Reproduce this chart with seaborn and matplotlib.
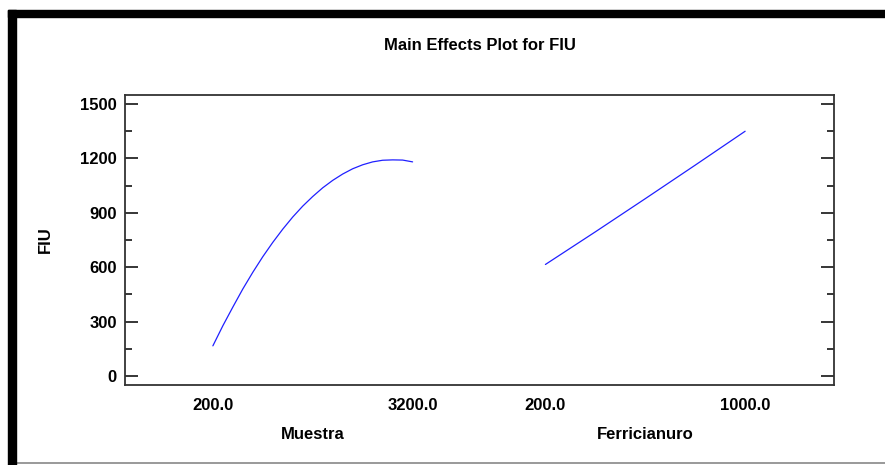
import numpy as np
import pandas as pd
import matplotlib
matplotlib.use("Agg")
import matplotlib.pyplot as plt
from matplotlib.patches import Rectangle
from matplotlib.ticker import MultipleLocator
import seaborn as sns

# Data
muestra_levels = [200, 350, 500, 650, 800, 950, 1100, 1250, 1400, 1550, 1700,
                  1850, 2000, 2150, 2300, 2450, 2600, 2750, 2900, 3050, 3200]
muestra_fiu = [166, 277, 380, 480, 572, 658, 737, 810, 877, 937, 990,
               1038, 1079, 1114, 1143, 1165, 1181, 1190, 1192, 1191, 1181]

ferri_levels = [200, 400, 600, 800, 1000]
ferri_fiu = [615, 795, 978, 1163, 1350]

factor_names = ["Muestra", "Ferricianuro"]
factor_ranges = [(200, 3200), (200, 1000)]
tick_labels = ["200.0", "3200.0", "200.0", "1000.0"]

# each factor gets a unit-wide slot on a shared x axis
offsets = [0.0, 1.665]


def to_slot(vals, lo, hi, off):
    return [(v - lo) / (hi - lo) + off for v in vals]


df = pd.concat([
    pd.DataFrame({"x": to_slot(muestra_levels, *factor_ranges[0], offsets[0]),
                  "FIU": muestra_fiu, "factor": factor_names[0]}),
    pd.DataFrame({"x": to_slot(ferri_levels, *factor_ranges[1], offsets[1]),
                  "FIU": ferri_fiu, "factor": factor_names[1]}),
])

sns.set_style("white")
plt.rcParams["font.family"] = ["Liberation Sans", "DejaVu Sans"]
plt.rcParams["font.weight"] = "bold"
plt.rcParams["text.color"] = "black"
plt.rcParams["xtick.color"] = "black"
plt.rcParams["ytick.color"] = "black"
plt.rcParams["axes.labelcolor"] = "black"

fig = plt.figure(figsize=(8.85, 4.65), dpi=100)
ax = fig.add_axes([125 / 885, 1 - 385 / 465, 709 / 885, 290 / 465])

sns.lineplot(data=df, x="x", y="FIU", units="factor", estimator=None,
             color="#2020ff", linewidth=0.9, ax=ax)

ax.set_xlim(-0.44, offsets[1] + 1 + 0.445)
ax.set_ylim(-50, 1550)

# x ticks at the low/high level of every factor
xt = [offsets[0], offsets[0] + 1, offsets[1], offsets[1] + 1]
ax.set_xticks(xt)
ax.set_xticklabels(tick_labels, fontsize=12, fontweight="bold")
ax.tick_params(axis="x", length=0, pad=9)

ax.yaxis.set_major_locator(MultipleLocator(300))
ax.yaxis.set_minor_locator(MultipleLocator(150))
ax.tick_params(axis="y", which="both", direction="in", left=True, right=True,
               labelsize=12, pad=6, color="black")
ax.tick_params(axis="y", which="major", length=9.4, width=1.1)
ax.tick_params(axis="y", which="minor", length=5, width=1.1)
for lab in ax.get_yticklabels():
    lab.set_fontweight("bold")

for sp in ax.spines.values():
    sp.set_visible(True)
    sp.set_color("#333333")
    sp.set_linewidth(1.3)

ax.set_xlabel("")
ax.set_ylabel("FIU", fontsize=12, fontweight="bold")
ax.yaxis.set_label_coords(-0.1016, 0.5)

for name, off in zip(factor_names, offsets):
    ax.text(off + 0.5, -0.172, name, transform=ax.get_xaxis_transform(),
            ha="center", va="center", fontsize=12, fontweight="bold")

ax.text(0.5, 1.172, "Main Effects Plot for FIU", transform=ax.transAxes,
        ha="center", va="center", fontsize=12, fontweight="bold")

# the black frame round the picture (top and left, thin grey bottom)
fig.patches.append(Rectangle((8 / 885, 1 - 17 / 465), 1, 7 / 465,
                             transform=fig.transFigure, color="black", zorder=5))
fig.patches.append(Rectangle((8 / 885, 0), 8 / 885, 1 - 10 / 465,
                             transform=fig.transFigure, color="black", zorder=5))
fig.lines.append(plt.Line2D([16 / 885, 1], [2 / 465, 2 / 465], transform=fig.transFigure,
                            color="#888888", linewidth=1.2))

fig.savefig("out.png", dpi=100)
